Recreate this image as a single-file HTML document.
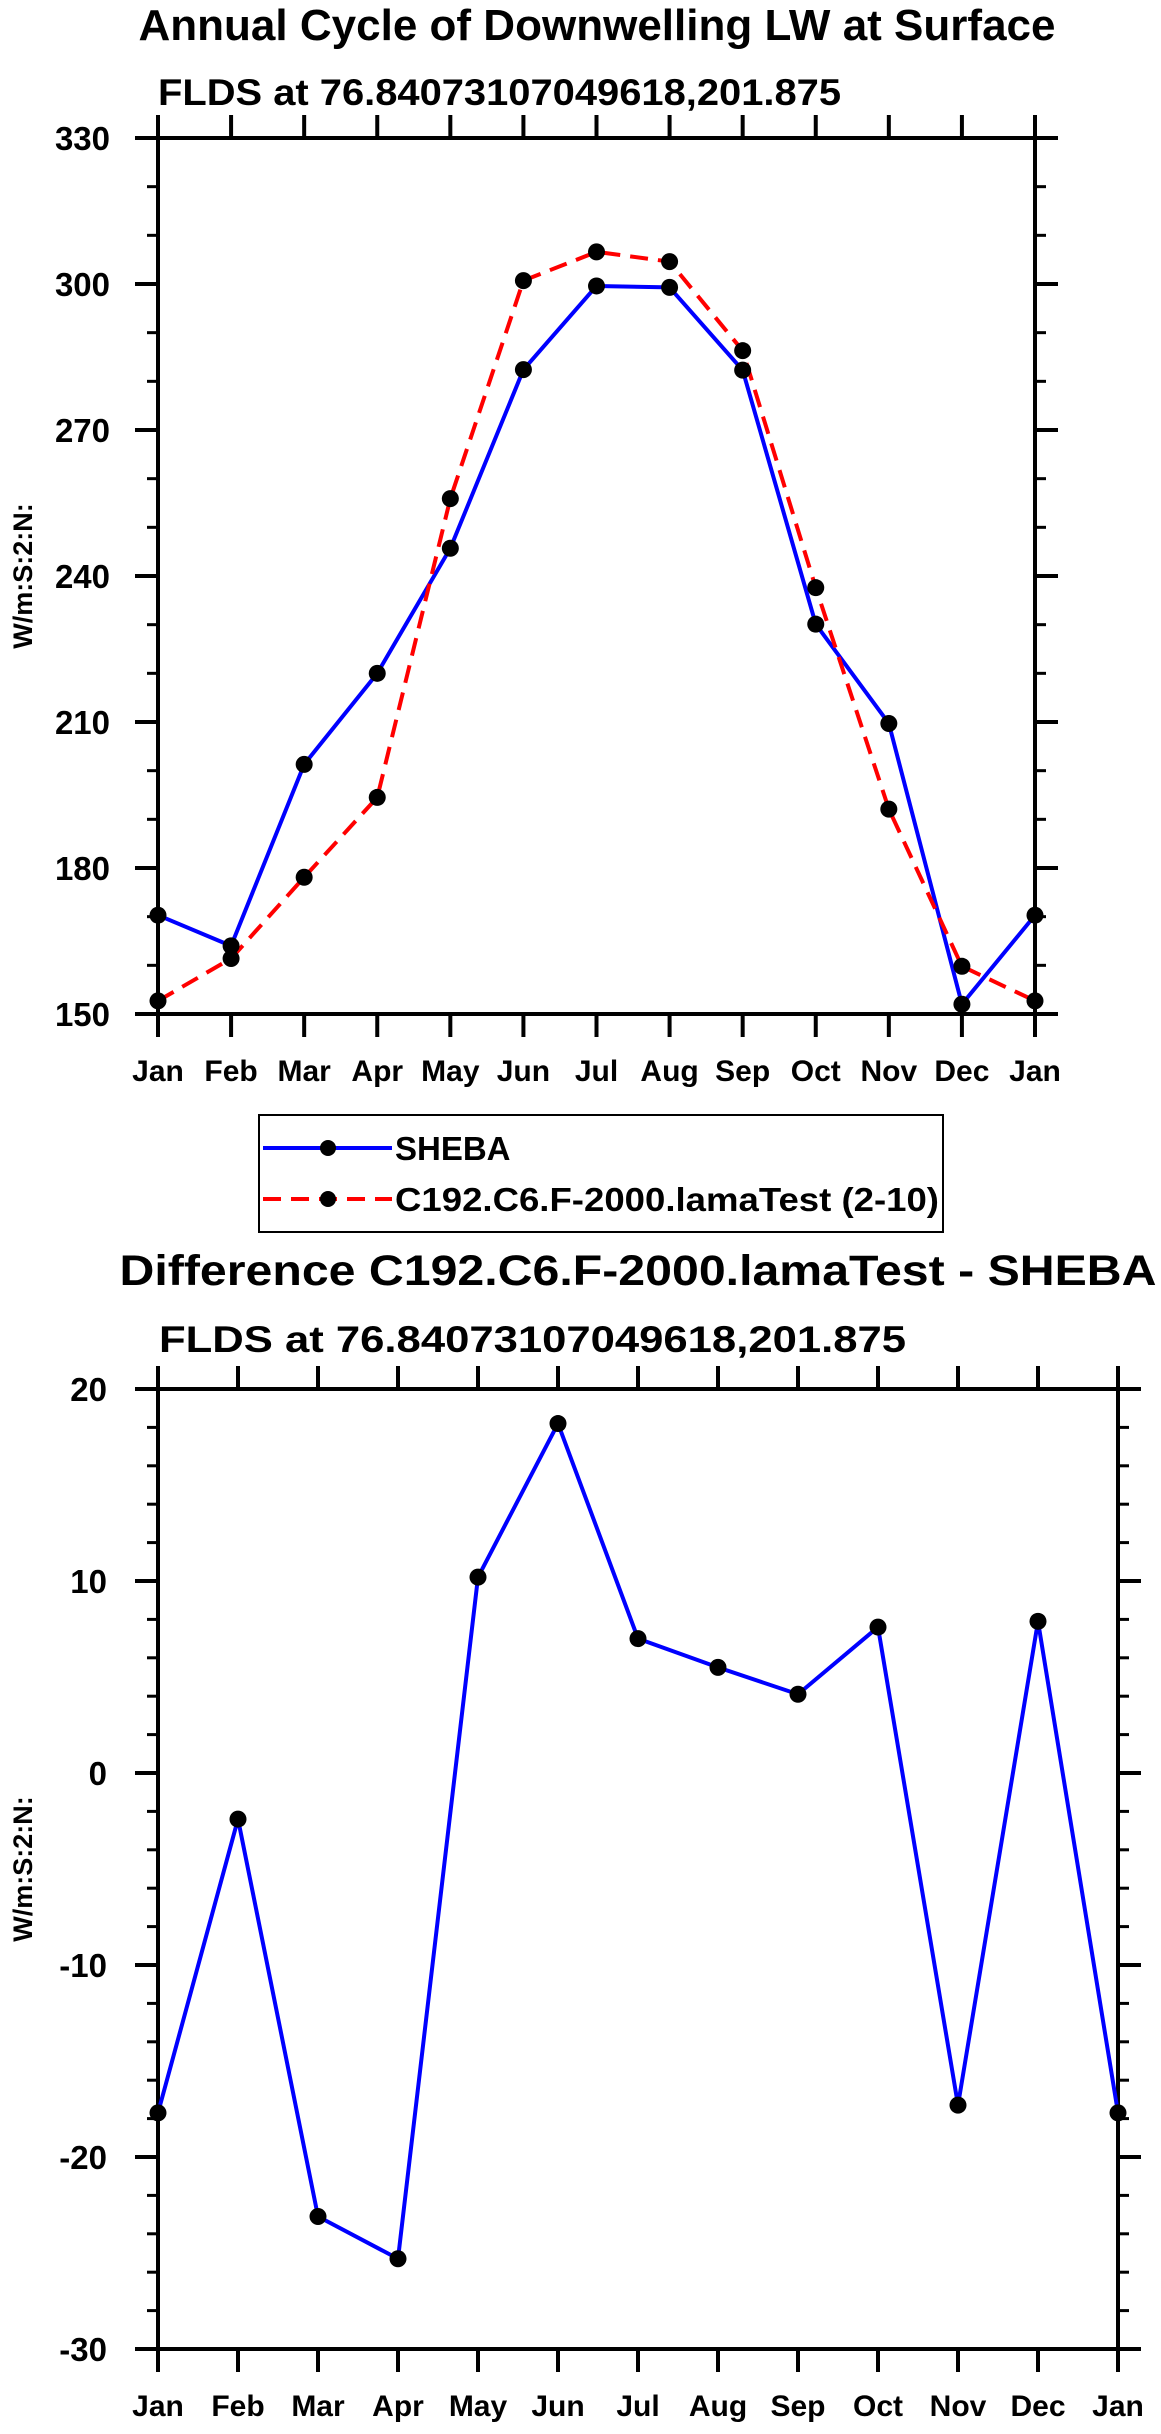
<!DOCTYPE html>
<html><head><meta charset="utf-8"><style>
html,body{margin:0;padding:0;background:#fff;}
svg{display:block;font-family:"Liberation Sans",sans-serif;font-weight:bold;}
</style></head><body>
<svg id="chart" width="1161" height="2434" viewBox="0 0 1161 2434" xmlns="http://www.w3.org/2000/svg">
<text x="597" y="40" text-anchor="middle" font-size="44" textLength="917" lengthAdjust="spacingAndGlyphs">Annual Cycle of Downwelling LW at Surface</text>
<text x="158" y="105" font-size="37" textLength="683" lengthAdjust="spacingAndGlyphs">FLDS at 76.84073107049618,201.875</text>
<g id="top"></g>
<g>
<rect x="259" y="1115" width="684" height="117" fill="none" stroke="#000" stroke-width="2"/>
<g>
<line x1="263" y1="1148" x2="392" y2="1148" stroke="#0000ff" stroke-width="4"/>
<circle cx="328" cy="1148" r="8" fill="#000"/>
<text x="395" y="1160" font-size="33">SHEBA</text>
</g>
<g>
<line x1="263" y1="1199" x2="392" y2="1199" stroke="#ff0000" stroke-width="4" stroke-dasharray="18,10"/>
<circle cx="328" cy="1199" r="8" fill="#000"/>
<text x="395" y="1211" font-size="33" textLength="544" lengthAdjust="spacingAndGlyphs">C192.C6.F-2000.lamaTest (2-10)</text>
</g>
</g>
<text x="638" y="1285" text-anchor="middle" font-size="43" textLength="1037" lengthAdjust="spacingAndGlyphs">Difference C192.C6.F-2000.lamaTest - SHEBA</text>
<text x="159" y="1352" font-size="37" textLength="747" lengthAdjust="spacingAndGlyphs">FLDS at 76.84073107049618,201.875</text>
<g id="bot"></g>
</svg>
<script>
const months = ["Jan","Feb","Mar","Apr","May","Jun","Jul","Aug","Sep","Oct","Nov","Dec","Jan"];
const shebaValues = [170.3,164.0,201.3,220.0,245.7,282.4,299.6,299.3,282.3,230.1,209.7,152.0,170.3];
const modelValues = [152.7,161.4,178.1,194.5,255.9,300.7,306.6,304.6,286.3,237.6,192.1,159.8,152.7];
const diffValues = [-17.7,-2.4,-23.1,-25.3,10.2,18.2,7.0,5.5,4.1,7.6,-17.3,7.9,-17.7];
const topTicks = [150,180,210,240,270,300,330];
const botTicks = [-30,-20,-10,0,10,20];

const NS = "http://www.w3.org/2000/svg";
function mk(parent, tag, attrs, txt){
  const e = document.createElementNS(NS, tag);
  for (const k in attrs) e.setAttribute(k, attrs[k]);
  if (txt !== undefined) e.textContent = txt;
  parent.appendChild(e);
  return e;
}
function drawPlot(g, o){
  const n = months.length - 1;
  const xs = i => o.L + i * (o.R - o.L) / n;
  const ys = v => o.B - (v - o.min) * (o.B - o.T) / (o.max - o.min);
  for (let v = o.min; v <= o.max + 1e-9; v += o.minor){
    const r = (v - o.min) % o.major;
    if (Math.abs(r) < 1e-6 || Math.abs(r - o.major) < 1e-6) continue;
    const t = mk(g, "line", {x1:o.L-11, x2:o.L, y1:ys(v), y2:ys(v), stroke:"#000","stroke-width":3});
    
    
    const t2 = mk(g, "line", {x1:o.R, x2:o.R+11, y1:ys(v), y2:ys(v), stroke:"#000","stroke-width":3});
    
    
  }
  o.ticks.forEach(v => {
    const t = mk(g, "line", {x1:o.L-23, x2:o.L, y1:ys(v), y2:ys(v), stroke:"#000","stroke-width":4});
    
    
    const t2 = mk(g, "line", {x1:o.R, x2:o.R+23, y1:ys(v), y2:ys(v), stroke:"#000","stroke-width":4});
    
    
    const lb = mk(g, "text", {x:o.L-o.lblOff, y:ys(v)+12, "text-anchor":"end","font-size":33}, String(v));
    
    
  });
  months.forEach((m, i) => {
    const t = mk(g, "line", {x1:xs(i), x2:xs(i), y1:o.T-23, y2:o.T, stroke:"#000","stroke-width":4});
    
    
    const t2 = mk(g, "line", {x1:xs(i), x2:xs(i), y1:o.B, y2:o.B+23, stroke:"#000","stroke-width":4});
    
    
    const lb = mk(g, "text", {x:xs(i), y:o.B+67, "text-anchor":"middle","font-size":30}, m);
    
    
  });
  const fr = mk(g, "rect", {x:o.L, y:o.T, width:o.R-o.L, height:o.B-o.T, fill:"none", stroke:"#000","stroke-width":4});
  
  
  const yl = mk(g, "text", {x:0, y:0, "text-anchor":"middle","font-size":27, transform:`translate(32,${(o.T+o.B)/2}) rotate(-90)`}, "W/m:S:2:N:");
  
  
  o.series.forEach(s => {
    const pts = s.values.map((v, i) => xs(i) + "," + ys(v)).join(" ");
    const pl = mk(g, "polyline", {points:pts, fill:"none", stroke:s.color, "stroke-width":4, "stroke-dasharray":s.dash||"none", "stroke-linejoin":"round"});
    
    
  });
  o.series.forEach(s => {
    s.values.forEach((v, i) => {
      const c = mk(g, "circle", {cx:xs(i), cy:ys(v), r:8.5, fill:"#000"});
      
      
    });
  });
}
drawPlot(document.getElementById("top"), {L:158, R:1035, T:138, B:1014, min:150, max:330, major:30, minor:10, ticks:topTicks, lblOff:48,
  series:[{name:"sheba", values:shebaValues, color:"#0000ff"},{name:"model", values:modelValues, color:"#ff0000", dash:"18,10"}]});
drawPlot(document.getElementById("bot"), {L:158, R:1118, T:1389, B:2349, min:-30, max:20, major:10, minor:2, ticks:botTicks, lblOff:51,
  series:[{name:"difference", values:diffValues, color:"#0000ff"}]});
</script>
</body></html>
